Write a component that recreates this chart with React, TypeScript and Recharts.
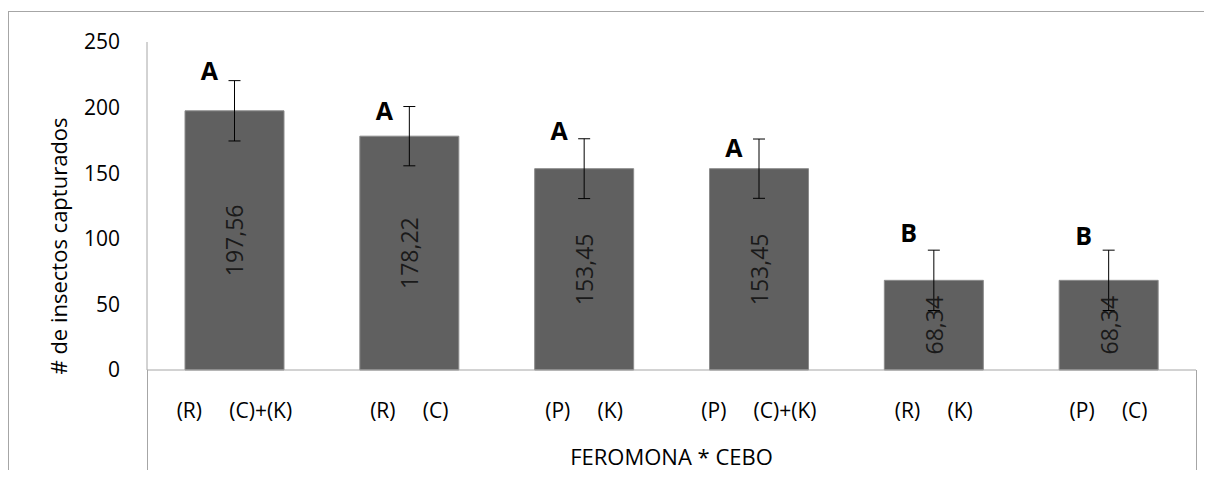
import React from 'react'
import {
  ComposedChart,
  Bar,
  Line,
  XAxis,
  YAxis,
  ErrorBar,
  LabelList,
} from 'recharts'

const feromona = ['(R)', '(R)', '(P)', '(P)', '(R)', '(P)']
const cebo = ['(C)+(K)', '(C)', '(K)', '(C)+(K)', '(K)', '(C)']
const insectos = [197.56, 178.22, 153.45, 153.45, 68.34, 68.34]
const errores = [23, 22.6, 22.8, 22.6, 23, 23]
const letras = ['A', 'A', 'A', 'A', 'B', 'B']
const letraY = [228.7, 198.2, 182.9, 170, 105.2, 102.9]
const yTicks = [0, 50, 100, 150, 200, 250]

const data = feromona.map((f, i) => ({
  name: `${f}\u00A0\u00A0\u00A0\u00A0\u00A0${cebo[i]}`,
  valor: insectos[i],
  err: errores[i],
  letra: letras[i],
  letraY: letraY[i],
}))

const FONT = '"Open Sans", sans-serif'
const GRIS = '#a6a6a6'

const fmt = (n: number) => n.toFixed(2).replace('.', ',')

const ValorLabel = (props: any) => {
  const box = props.viewBox ?? props
  const { x, y, width, height } = box
  const cx = x + width / 2
  const cy = y + height / 2
  return (
    <text
      x={cx}
      y={cy}
      transform={`rotate(-90, ${cx}, ${cy})`}
      textAnchor="middle"
      dominantBaseline="central"
      fontFamily={FONT}
      fontSize={23}
      fill="#1a1a1a"
    >
      {fmt(Number(props.value))}
    </text>
  )
}

const LetraLabel = (props: any) => {
  const { x, y, index } = props
  return (
    <text
      x={x - 25}
      y={y}
      textAnchor="middle"
      dominantBaseline="central"
      fontFamily={FONT}
      fontSize={25}
      fontWeight="bold"
      fill="#000"
    >
      {letras[index]}
    </text>
  )
}

const CatTick = (props: any) => {
  const { x, y, payload } = props
  return (
    <text
      x={x}
      y={y + 32}
      textAnchor="middle"
      dominantBaseline="central"
      fontFamily={FONT}
      fontSize={21}
      fill="#000"
      style={{ whiteSpace: 'pre' }}
    >
      {payload.value}
    </text>
  )
}

const YLabel = (props: any) => {
  const vb = props.viewBox ?? { x: 0, y: 34, width: 139, height: 328 }
  const cx = vb.x + 50
  const cy = vb.y + vb.height / 2 + 40
  return (
    <text
      x={cx}
      y={cy}
      transform={`rotate(-90, ${cx}, ${cy})`}
      textAnchor="middle"
      dominantBaseline="central"
      fontFamily={FONT}
      fontSize={22}
      fill="#000"
    >
      # de insectos capturados
    </text>
  )
}

export default function App() {
  return (
    <div style={{ position: 'relative', width: 1196, height: 462 }}>
      <div
        style={{
          position: 'absolute',
          left: 0,
          top: 0,
          width: 1204,
          height: 470,
          overflow: 'hidden',
          background: '#fff',
        }}
      >
        <div
          style={{
            position: 'absolute',
            left: 0,
            top: 3,
            width: 1230,
            height: 500,
            borderTop: `1px solid ${GRIS}`,
            borderLeft: `1px solid ${GRIS}`,
          }}
        />
        <div style={{ position: 'absolute', left: 139, top: 362, width: 1, height: 108, background: GRIS }} />
        <div style={{ position: 'absolute', left: 1188, top: 362, width: 1, height: 108, background: GRIS }} />
        <div style={{ position: 'absolute', left: 0, top: 0 }}>
          <ComposedChart
            width={1204}
            height={470}
            data={data}
            margin={{ top: 34, right: 16, left: 0, bottom: 0 }}
          >
            <XAxis
              dataKey="name"
              height={108}
              stroke={GRIS}
              tickLine={false}
              tick={<CatTick />}
              interval={0}
              label={{
                value: 'FEROMONA * CEBO',
                position: 'insideBottom',
                offset: 13,
                fontFamily: FONT,
                fontSize: 22,
                fill: '#000',
              }}
            />
            <YAxis
              width={139}
              domain={[0, 250]}
              ticks={yTicks}
              stroke={GRIS}
              tickLine={false}
              tickSize={0}
              tickMargin={27}
              tick={{ fontFamily: FONT, fontSize: 21, fill: '#000' }}
              label={<YLabel />}
            />
            <Bar
              dataKey="valor"
              fill="#606060"
              stroke="#8c8c8c"
              strokeWidth={1}
              barSize={99}
              isAnimationActive={false}
            >
              <ErrorBar dataKey="err" width={6} stroke="#000" strokeWidth={1} direction="y" />
              <LabelList dataKey="valor" content={<ValorLabel />} />
            </Bar>
            <Line
              dataKey="letraY"
              stroke="none"
              dot={false}
              activeDot={false}
              isAnimationActive={false}
            >
              <LabelList dataKey="letra" content={<LetraLabel />} />
            </Line>
          </ComposedChart>
        </div>
      </div>
    </div>
  )
}
